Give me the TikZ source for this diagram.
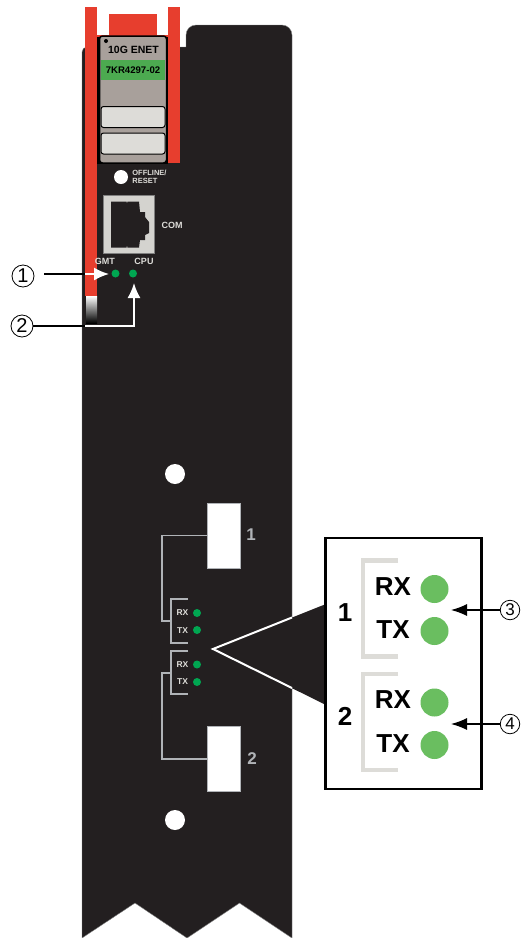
\documentclass[tikz,border=0pt]{standalone}
\usepackage{fontspec}
\setmainfont{Liberation Sans}
\usetikzlibrary{arrows.meta,positioning,calc}
\definecolor{paneldark}{RGB}{35,31,32}
\definecolor{ejectred}{RGB}{231,62,46}
\definecolor{modgray}{RGB}{168,160,155}
\definecolor{lightgray2}{RGB}{221,220,216}
\definecolor{linegray}{RGB}{176,179,183}
\definecolor{ledgreen}{RGB}{0,166,81}
\definecolor{bigled}{RGB}{106,190,96}
\definecolor{labelgreen}{RGB}{76,170,80}
\newcommand{\fsz}[1]{\fontsize{#1}{#1}\selectfont\bfseries}
\tikzset{
redpart/.style = {fill=ejectred, draw=none},
slot/.style = {draw=black, line width=1pt, fill=lightgray2, rounded corners=2.5pt, minimum width=64pt, minimum height=21pt, inner sep=0pt},
port/.style = {draw=linegray, line width=0.8pt, fill=white, minimum width=33pt, minimum height=65pt, inner sep=0pt},
hole/.style = {circle, fill=white, minimum size=20pt, inner sep=0pt},
led/.style = {circle, fill=ledgreen, minimum size=8pt, inner sep=0pt},
bigledn/.style = {circle, fill=bigled, minimum size=28pt, inner sep=0pt},
panellabel/.style = {text=lightgray2, inner sep=0pt, font=\fsz{9}},
smalllabel/.style = {text=lightgray2, inner sep=0pt, font=\fsz{8.5}},
portlabel/.style = {text=linegray, inner sep=0pt, font=\fsz{17}},
boxlabel/.style = {text=black, inner sep=0pt, font=\fsz{26}},
callnum/.style = {circle, draw=black, line width=0.8pt, fill=white, minimum size=22pt, inner sep=0pt, text=black, font=\fontsize{20}{20}\selectfont},
smallnum/.style = {callnum, minimum size=19.5pt, font=\fontsize{17}{17}\selectfont},
graywire/.style = {draw=linegray, line width=1.8pt},
boxbracket/.style = {draw=lightgray2, line width=4.5pt},
blackarrow/.style = {draw=black, line width=1.6pt},
whitearrow/.style = {draw=white, line width=1.8pt, -{Latex[length=15pt,width=13pt]}},
calloutarrow/.style = {draw=black, line width=1.2pt, -{Latex[length=16pt,width=12pt]}}
}
\begin{document}
\begin{tikzpicture}[x=1pt,y=-1pt]
    \useasboundingbox (0,0) rectangle (520,938);
    % panel
    \fill [paneldark, draw=gray, line width=0.4pt] (82,938) [rounded corners=5pt] -- (82,47) [sharp corners] -- (186,47)
        [rounded corners=10pt] -- (186,25) -- (292,25) [sharp corners] -- (292,938)
        -- (239.5,903) -- (187,938) -- (135,903) -- cycle;
    % ejector and module
    \fill [redpart] (85,7) rectangle (97,296);
    \fill [redpart] (168,7) rectangle (180,163);
    \fill [redpart] (109,14) rectangle (157,36);
    \fill [redpart] (97,35) rectangle (168,37);
    \fill [black] (97,37) rectangle (168,164);
    \shade [top color=white, bottom color=black] (86,296) rectangle (97,323);
    \node [draw=black, line width=1.5pt, fill=modgray, rounded corners=3pt, minimum width=67pt, minimum height=127pt, inner sep=0pt] (module) at (133,99.5) {};
    \node [circle, fill=black, minimum size=4pt, inner sep=0pt] (moddot) at (106,41) {};
    \node [inner sep=0pt, font=\fsz{10.5}] (modname) at (133.5,50) {10G ENET};
    \node [fill=labelgreen, minimum width=64pt, minimum height=20pt, inner sep=0pt, font=\fsz{9.6}] (partno) at (133,70) {7KR4297-02};
    \node [slot] (slot1) at (133,117) {};
    \node [slot] (slot2) at (133,143.5) {};
    % reset and com
    \node [circle, fill=white, minimum size=14pt, inner sep=0pt] (reset) at (121,177) {};
    \node [panellabel, font=\fsz{7.5}, align=left, right=4pt of reset] (resetlabel) {OFFLINE/\\RESET};
    \node [fill=lightgray2!90!gray, draw=gray, line width=0.5pt, minimum width=51pt, minimum height=58pt, inner sep=0pt] (com) at (128.5,224) {};
    \fill [paneldark] (111,201.5) -- (126.5,201.5) -- (127,203.5) -- (127.5,201.5) -- (139,201.5) -- (140,212) -- (145,212) -- (145,217)
        -- (149,222) -- (149,233) -- (145,235) -- (145,240) -- (140,240) -- (139,247.5) -- (127.5,247.5) -- (127,245) -- (126.5,247.5) -- (111,247.5) -- cycle;
    \node [panellabel] (comlabel) at (172,225) {COM};
    \node [panellabel, anchor=east] (mgmtlabel) at (115,261) {GMT};
    \node [panellabel] (cpulabel) at (144,261) {CPU};
    \node [led] (mgmt) at (115.5,273.5) {};
    \node [led] (cpu) at (133,273.5) {};
    % front leds
    \node [hole] (hole1) at (175,474) {};
    \node [hole] (hole2) at (175,820) {};
    \node [port] (port1) at (223.5,535.5) {};
    \node [port] (port2) at (223.5,759) {};
    \node [portlabel] (portname1) at (251,535) {1};
    \node [portlabel] (portname2) at (252,759) {2};
    \node [smalllabel] (rx1) at (182.5,613) {RX};
    \node [smalllabel] (tx1) at (182.5,630.5) {TX};
    \node [smalllabel] (rx2) at (182.5,665) {RX};
    \node [smalllabel] (tx2) at (182.5,682) {TX};
    \node [led] (rxled1) at (197,613) {};
    \node [led] (txled1) at (197,630) {};
    \node [led] (rxled2) at (197,664.5) {};
    \node [led] (txled2) at (197,682) {};
    \coordinate (brk1) at (171,621);
    \coordinate (brk2) at (171,673);
    \draw [graywire] (188,599) -| (brk1) |- (188,643);
    \draw [graywire] (188,651) -| (brk2) |- (188,694);
    \draw [graywire] (port1.west) -| (162,621) -- (brk1);
    \draw [graywire] (port2.west) -| (162,673) -- (brk2);
    % callout
    \coordinate (tip) at (213,649);
    \coordinate (wedgetop) at (326,604);
    \coordinate (wedgebot) at (326,705);
    \fill [paneldark] (wedgetop) -- (tip) -- (wedgebot) -- cycle;
    \draw [white, line width=2pt] (292,617.5) -- (tip) -- (292,688);
    \node [draw=black, line width=2.2pt, fill=white, minimum width=156pt, minimum height=251pt, inner sep=0pt] (zoombox) at (403.5,663.5) {};
    \draw [boxbracket] (398,560.5) -| (363,656.5) -- (398,656.5);
    \draw [boxbracket] (398,674) -| (363,770) -- (398,770);
    \node [boxlabel] (name1) at (345,613) {1};
    \node [boxlabel] (name2) at (345,716) {2};
    \node [boxlabel] (rxb1) at (393,587) {RX};
    \node [boxlabel] (txb1) at (393,630) {TX};
    \node [boxlabel] (rxb2) at (393,700) {RX};
    \node [boxlabel] (txb2) at (393,744) {TX};
    \node [bigledn] (rxbig1) at (434.5,589) {};
    \node [bigledn] (txbig1) at (434.5,631) {};
    \node [bigledn] (rxbig2) at (434.5,702.5) {};
    \node [bigledn] (txbig2) at (434.5,745) {};
    % numbered arrows
    \coordinate (start1) at (44,274);
    \coordinate (mid1) at (85,274);
    \coordinate (end1) at (109,274);
    \coordinate (mid2) at (85,326);
    \coordinate (end2) at (134,283);
    \node [callnum] (num1) at (23,276) {1};
    \node [callnum] (num2) at (22,326) {2};
    \node [smallnum] (num3) at (510,610) {3};
    \node [smallnum] (num4) at (510,724) {4};
    \draw [blackarrow] (start1) -- (mid1);
    \draw [whitearrow] (mid1) -- (end1);
    \draw [blackarrow] (num2) -- (mid2);
    \draw [whitearrow] (mid2) -| (end2);
    \draw [calloutarrow] (num3) -- (451,610);
    \draw [calloutarrow] (num4) -- (451,724);
\end{tikzpicture}
\end{document}
